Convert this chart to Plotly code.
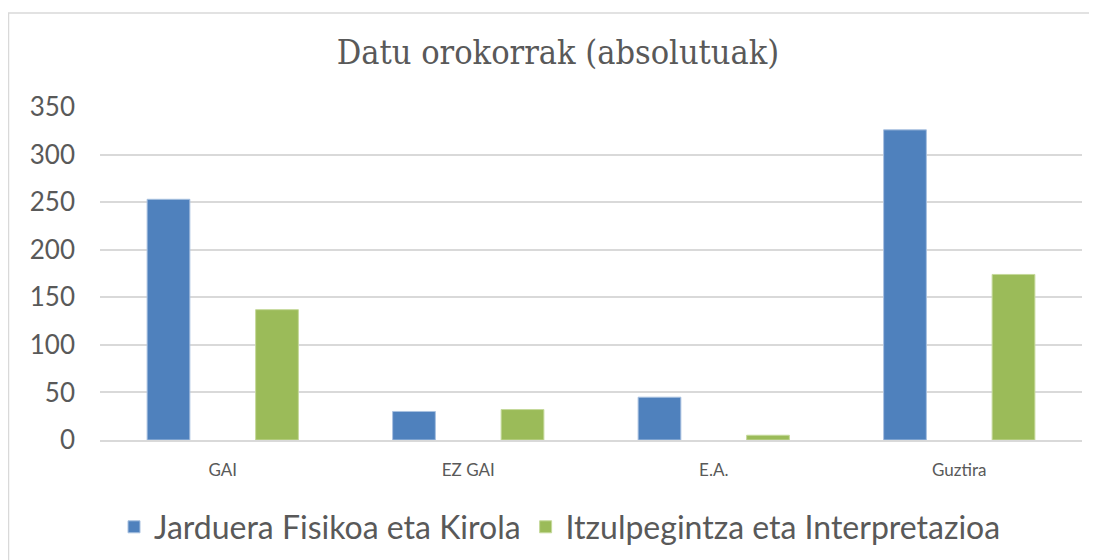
import plotly.graph_objects as go

categories = ["GAI", "EZ GAI", "E.A.", "Guztira"]
series_names = ["Jarduera Fisikoa eta Kirola", "Itzulpegintza eta Interpretazioa"]
jarduera = [253, 30, 45, 326]
itzulpen = [137, 32, 5, 174]
y_ticks = [0, 50, 100, 150, 200, 250, 300, 350]

txt = "#595959"
sans = "Lato, 'Noto Sans', 'Open Sans', sans-serif"

# page has an ~8px body offset; figure coords = screen - 8
L, T, R, B = 92, 99, 23, 128
pw = 1097 - L - R
ph = 560 - T - B

fig = go.Figure()
fig.add_trace(go.Bar(x=categories, y=jarduera, name=series_names[0],
                     marker=dict(color="#4f81bd", line=dict(color="#a9c1e0", width=1))))
fig.add_trace(go.Bar(x=categories, y=itzulpen, name=series_names[1],
                     marker=dict(color="#9bbb59", line=dict(color="#c5d99b", width=1))))

fig.update_layout(
    width=1097, height=560,
    margin=dict(l=L, r=R, t=T, b=B),
    paper_bgcolor="white", plot_bgcolor="white",
    barmode="group", bargap=0.116, bargroupgap=0.606,
    title=dict(text="Datu orokorrak (absolutuak)", x=(558 - 8 - L) / pw, xref="paper",
               xanchor="center", y=1 - 44 / 560, yanchor="middle",
               font=dict(family="'DejaVu Serif Condensed', 'DejaVu Serif', serif", size=34, color=txt)),
    font=dict(family=sans, color=txt),
    legend=dict(orientation="h", x=(560 - 8 - L) / pw, xanchor="center",
                y=-(519 - (560 - B)) / ph, yanchor="middle",
                font=dict(size=32, color=txt), itemwidth=30, traceorder="normal",
                tracegroupgap=0),
    yaxis=dict(range=[0, 350], tickvals=y_ticks, showgrid=True, gridcolor="#d9d9d9",
               gridwidth=1.5, zeroline=False, showline=False,
               tickfont=dict(size=26, color=txt), ticklabelstandoff=24),
    xaxis=dict(showline=True, linecolor="#d9d9d9", linewidth=2, ticks="",
               tickfont=dict(size=17, color=txt), ticklabelstandoff=14),
    shapes=[dict(type="rect", xref="paper", yref="paper",
                 x0=(0.5 - L) / pw, x1=(1120 - L) / pw,
                 y0=-(600 - (560 - B)) / ph, y1=1 + (T - 5) / ph,
                 line=dict(color="#d9d9d9", width=1.5), fillcolor="rgba(0,0,0,0)", layer="below")],
)

fig.write_html("out.html")
